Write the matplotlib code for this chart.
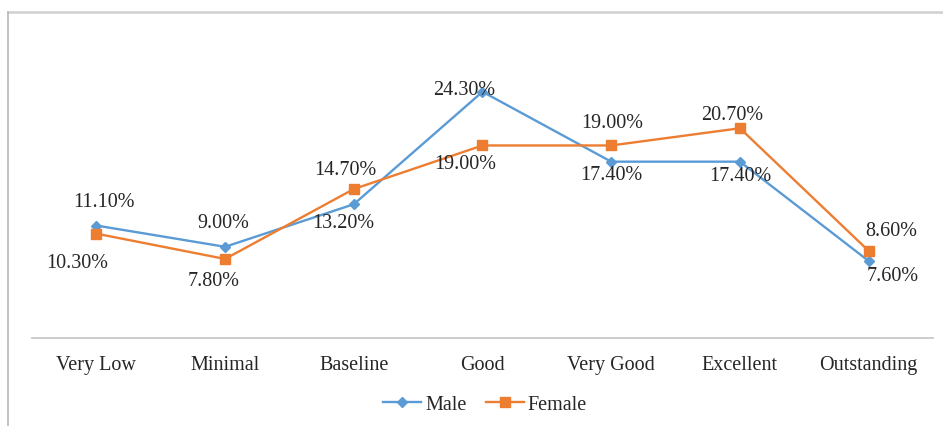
import matplotlib
matplotlib.use("Agg")
import matplotlib.pyplot as plt
from matplotlib.lines import Line2D

categories = ["Very Low", "Minimal", "Baseline", "Good", "Very Good", "Excellent", "Outstanding"]
male = [11.1, 9.0, 13.2, 24.3, 17.4, 17.4, 7.6]
female = [10.3, 7.8, 14.7, 19.0, 19.0, 20.7, 8.6]

# label offsets (pixels) relative to each point
male_off = [(8, 24), (-2, 24), (-11, -18), (-18, 2), (0, -13), (0, -14), (24, -15)]
female_off = [(-19, -29), (-11, -22), (-8, 20), (-17, -18), (1, 23), (-8, 14), (23, 20)]

plt.rcParams["font.family"] = ["Liberation Serif", "DejaVu Serif"]

W, H = 943, 427
fig = plt.figure(figsize=(W / 100, H / 100), dpi=100)
ax = fig.add_axes([32 / W, 1 - 339 / H, (933 - 32) / W, (339 - 35) / H])

x = list(range(len(categories)))
blue = "#5B9BD5"
orange = "#ED7D31"
ax.plot(x, male, color=blue, lw=1.7, marker="D", ms=5.5, label="Male", zorder=3)
ax.plot(x, female, color=orange, lw=1.7, marker="s", ms=7, label="Female", zorder=3)

for i, v in enumerate(male):
    ax.annotate(f"{v:.2f}%", (i, v), xytext=male_off[i], textcoords="offset pixels",
                ha="center", va="center", fontsize=14.5, color="#262626")
for i, v in enumerate(female):
    ax.annotate(f"{v:.2f}%", (i, v), xytext=female_off[i], textcoords="offset pixels",
                ha="center", va="center", fontsize=14.5, color="#262626")

ax.set_xlim(-0.5, len(categories) - 0.5)
ax.set_ylim(0, 30)
ax.set_xticks(x)
ax.set_xticklabels(categories, fontsize=14.5, color="#262626")
ax.tick_params(axis="x", length=0, pad=12)
ax.set_yticks([])
for s in ["top", "right", "left"]:
    ax.spines[s].set_visible(False)
ax.spines["bottom"].set_color("#c8c8c8")
ax.spines["bottom"].set_linewidth(1.3)

leg = fig.legend(loc="center", bbox_to_anchor=(485 / W, 1 - 405 / H), ncol=2, frameon=False,
                 fontsize=14.5, handlelength=1.9, columnspacing=0.95, handletextpad=0.2)
for t in leg.get_texts():
    t.set_color("#262626")

# outer chart frame
fig.add_artist(Line2D([8 / W, 1], [1 - 13 / H, 1 - 13 / H], transform=fig.transFigure,
                      color="#d0d0d0", lw=1.8))
fig.add_artist(Line2D([8 / W, 8 / W], [0, 1 - 13 / H], transform=fig.transFigure,
                      color="#b8b8b8", lw=1.2))

fig.savefig("out.png", dpi=100)
